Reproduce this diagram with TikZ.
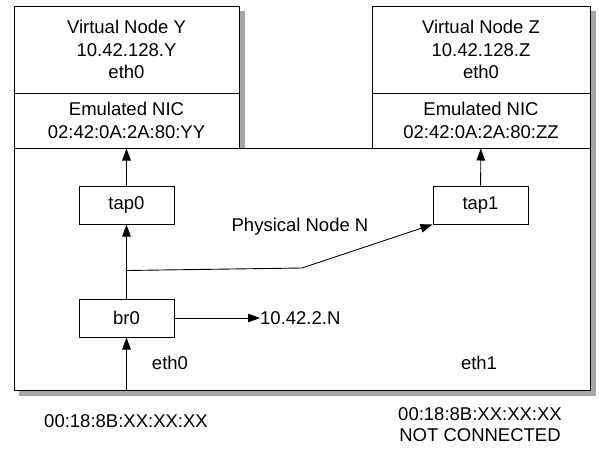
\documentclass[tikz,border=0pt]{standalone}
\usepackage{fontspec}
\setmainfont{Liberation Sans}
\usetikzlibrary{arrows.meta, calc}

\tikzset{
    box/.style={draw, fill=white, line width=1pt, align=center, inner sep=0pt},
    txt/.style={inner sep=0pt, align=center},
    link/.style={-{Triangle[length=12pt, width=8.5pt]}, line width=0.9pt},
    shadowband/.style={fill=black!35, draw=none}
}

\begin{document}
\begin{tikzpicture}[x=1pt, y=-1pt, font=\fontsize{18.5}{22.5}\selectfont]
    \useasboundingbox (0,0) rectangle (599,448);

    % Virtual Node Y
    \node[box, minimum width=225pt, minimum height=87pt] (vy) at (126.5,49.5)
        {Virtual Node Y\\10.42.128.Y\\eth0};
    \node[box, minimum width=225pt, minimum height=55pt] (nicy) at (126.5,120.5)
        {Emulated NIC\\02:42:0A:2A:80:YY};

    % Virtual Node Z
    \node[box, minimum width=218pt, minimum height=87pt] (vz) at (481,49.5)
        {Virtual Node Z\\10.42.128.Z\\eth0};
    \node[box, minimum width=218pt, minimum height=55pt] (nicz) at (481,120.5)
        {Emulated NIC\\02:42:0A:2A:80:ZZ};

    % Physical Node N
    \node[box, minimum width=576pt, minimum height=242pt] (phys) at (302,269) {};
    \node[txt] (physname) at (300,227) {Physical Node N};

    % Shadows
    \fill[shadowband] ($(vy.north east)+(0.5,5)$) rectangle ($(phys.north -| nicy.east)+(5,0)$);
    \fill[shadowband] ($(vz.north east)+(0.5,5)$) rectangle ($(phys.south east)+(5,5)$);
    \fill[shadowband] ($(phys.south west)+(5,0.5)$) rectangle ($(phys.south east)+(5,5)$);

    \node[box, minimum width=95pt, minimum height=38pt] (tap0) at (126.5,205) {tap0};
    \node[box, minimum width=95pt, minimum height=38pt] (tap1) at (480.5,205) {tap1};
    \node[box, minimum width=95pt, minimum height=38pt] (br0) at (126.5,318) {br0};
    \node[txt, anchor=west] (ip) at (260,318) {10.42.2.N};
    \node[txt] (eth0) at (170,363) {eth0};
    \node[txt] (eth1) at (479,363) {eth1};

    % MAC addresses
    \node[txt] (mac0) at (126,421) {00:18:8B:XX:XX:XX};
    \node[txt, font=\fontsize{18.5}{21}\selectfont] (mac1) at (480,425)
        {00:18:8B:XX:XX:XX\\NOT CONNECTED};

    % Links
    \coordinate (in0) at (br0 |- phys.south);
    \coordinate (split) at (126.5,270.5);
    \coordinate (bend) at (302,268);
    \draw[link] (in0) -- (br0);
    \draw[link] (br0) -- (tap0);
    \draw[link] (tap0) -- (nicy);
    \draw[link] (tap1) -- (nicz);
    \draw[link] (br0.east) -- (ip.west);
    \draw[link] (split) -- (bend) -- (tap1.south west);
\end{tikzpicture}
\end{document}
